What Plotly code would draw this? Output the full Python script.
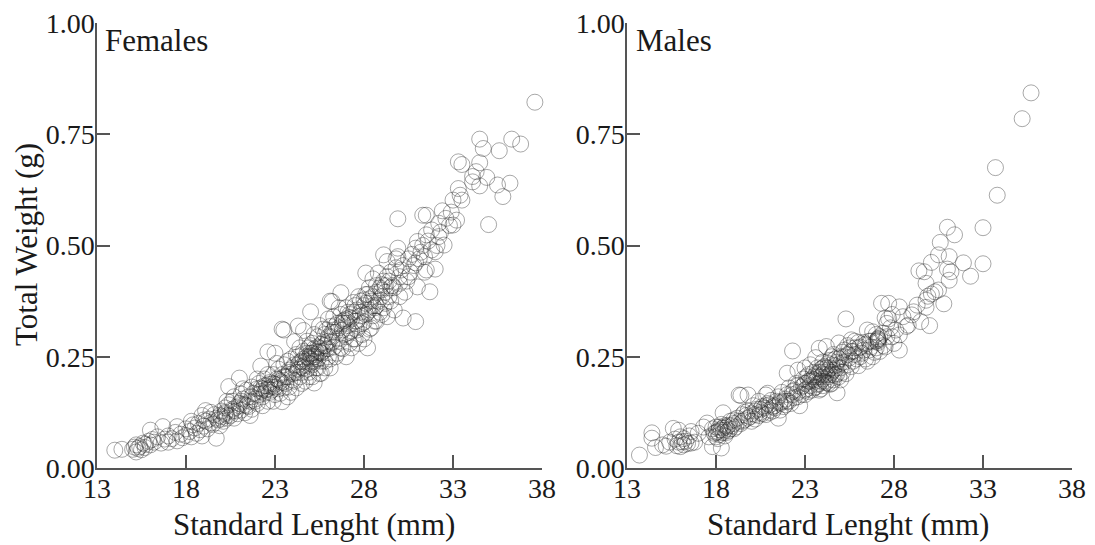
import plotly.graph_objects as go

female_length = [
14.0,14.4,15.0,15.1,15.2,15.2,15.3,15.4,15.5,15.6,15.7,15.7,15.9,16.0,16.0,16.1,16.2,16.4,16.6,16.7,
16.8,17.0,17.0,17.2,17.4,17.5,17.5,17.7,17.8,18.0,18.0,18.2,18.3,18.4,18.5,18.6,18.7,18.8,18.9,19.0,
19.1,19.1,19.2,19.3,19.5,19.6,19.7,19.8,20.0,20.0,20.1,20.2,20.2,20.3,20.4,20.4,20.5,20.6,20.6,20.7,
20.8,20.9,21.0,21.0,21.1,21.1,21.2,21.3,21.4,21.4,21.5,21.6,21.7,21.7,21.8,21.9,22.0,22.0,22.1,22.2,
22.2,22.3,22.4,22.4,22.5,22.6,22.6,22.7,22.7,22.8,22.9,23.0,23.0,23.0,23.1,23.2,23.2,23.3,23.4,23.4,
23.4,23.5,23.5,23.6,23.6,23.7,23.8,23.8,23.9,24.0,24.0,24.1,24.1,24.2,24.3,24.3,24.3,24.4,24.5,24.5,
24.6,24.6,24.7,24.7,24.8,24.8,24.9,24.9,25.0,25.0,25.0,25.1,25.1,25.2,25.2,25.3,25.3,25.4,25.4,25.5,
25.5,25.6,25.6,25.7,25.7,25.8,25.8,25.9,26.0,26.0,26.1,26.1,26.1,26.2,26.2,26.3,26.3,26.4,26.5,26.5,
26.6,26.7,26.7,26.8,26.8,26.9,27.0,27.0,27.1,27.2,27.2,27.3,27.4,27.5,27.5,27.6,27.7,27.7,27.8,27.9,
28.0,28.0,28.1,28.1,28.2,28.2,28.3,28.3,28.4,28.5,28.5,28.6,28.7,28.7,28.8,28.8,28.9,29.0,29.0,29.1,
29.1,29.2,29.3,29.3,29.4,29.5,29.5,29.7,29.8,29.9,29.9,29.9,30.0,30.0,30.2,30.2,30.4,30.5,30.6,30.9,
30.9,30.9,31.0,31.0,31.2,31.3,31.4,31.5,31.5,31.5,31.7,31.8,32.0,32.0,32.2,32.2,32.4,32.5,32.6,33.0,
33.0,33.2,33.3,33.3,33.4,33.5,33.5,34.1,34.1,34.3,34.5,34.5,34.5,34.7,34.9,35.0,35.5,35.6,35.8,36.2,
36.3,36.8,37.6]
female_weight = [
.040,.042,.042,.047,.036,.052,.044,.048,.041,.056,.053,.046,.060,.085,.052,.064,.058,.070,.056,.093,
.065,.072,.058,.066,.080,.093,.061,.076,.068,.088,.073,.082,.070,.097,.090,.078,.100,.086,.118,.094,
.129,.105,.088,.110,.098,.120,.067,.108,.115,.128,.105,.122,.135,.112,.183,.142,.118,.150,.128,.160,
.136,.122,.202,.145,.130,.166,.155,.124,.175,.140,.160,.150,.182,.132,.168,.155,.178,.145,.190,.229,
.172,.160,.185,.200,.176,.261,.150,.192,.170,.182,.210,.258,.188,.165,.200,.222,.178,.195,.312,.149,
.210,.310,.232,.190,.205,.160,.220,.182,.245,.212,.198,.284,.232,.180,.319,.222,.250,.205,.240,.215,
.309,.262,.195,.232,.250,.222,.270,.205,.351,.245,.258,.232,.280,.191,.250,.262,.225,.295,.245,.270,
.212,.213,.258,.312,.282,.240,.300,.268,.285,.250,.375,.225,.318,.374,.295,.272,.340,.305,.258,.325,
.285,.394,.345,.310,.268,.332,.295,.360,.320,.280,.345,.308,.372,.330,.290,.355,.318,.385,.342,.300,
.365,.328,.438,.390,.270,.350,.405,.312,.375,.342,.425,.360,.395,.330,.438,.375,.350,.412,.385,.479,
.360,.395,.464,.340,.420,.375,.440,.405,.450,.560,.494,.475,.385,.430,.337,.455,.420,.470,.440,.329,
.494,.461,.509,.407,.485,.568,.475,.568,.524,.445,.396,.535,.486,.447,.550,.520,.578,.501,.561,.602,
.546,.557,.688,.628,.613,.682,.602,.655,.643,.666,.739,.686,.634,.718,.653,.547,.636,.713,.610,.640,
.739,.728,.822]

female_core_length = [
18.3,18.9,19.4,19.9,20.3,20.7,21.2,21.6,22.0,22.3,22.6,22.9,23.1,23.3,23.5,23.7,23.9,24.1,24.2,24.4,
24.5,24.6,24.8,24.9,25.0,25.0,25.1,25.2,25.2,25.3,25.4,25.5,25.5,25.6,25.7,25.8,25.9,26.0,26.0,26.1,
26.2,26.3,26.4,26.5,26.6,26.7,26.8,26.9,27.0,27.0,27.1,27.2,27.3,27.3,27.4,27.5,27.6,27.7,27.8,27.9,
28.0,28.1,28.2,28.3,28.4,28.5,28.6,28.7,28.9,29.0,29.1,29.2,29.3,29.4,29.6,29.7,29.8,30.0,30.1,30.3,
30.5,30.7,30.8,31.1,31.3,31.4,31.6,31.8,32.1,32.3,32.8,32.9,
19.0,19.4,19.7,19.9,20.0,20.2,20.3,20.6,20.8,21.0,21.1,21.3,21.5,21.7,21.9,22.1,22.2,22.3,22.4,22.5,
22.6,22.7,22.8,22.9,23.0,23.2,23.4,23.5,23.7,23.8,24.0,24.2,24.3,24.4,24.5,24.6,24.7,24.8,24.9,25.0,
25.1,25.2,25.3,25.4,25.5,25.6,25.8,26.0,26.2,26.4,26.6,26.8,27.0,27.2,27.4,27.6,27.8,28.0,28.1,28.3,
28.5,28.7,29.0,29.2,29.5]
female_core_weight = [
.105,.072,.125,.095,.150,.112,.178,.118,.200,.140,.210,.150,.235,.168,.180,.240,.170,.195,.255,.270,
.190,.225,.285,.215,.235,.275,.205,.240,.300,.250,.225,.260,.320,.240,.262,.225,.310,.268,.335,.245,
.282,.310,.250,.290,.360,.270,.330,.300,.250,.325,.350,.305,.270,.335,.290,.365,.310,.280,.375,.325,
.290,.345,.390,.355,.315,.385,.330,.365,.405,.345,.420,.370,.430,.385,.410,.355,.470,.415,.445,.395,
.430,.480,.455,.470,.500,.440,.510,.490,.500,.530,.545,.575,
.108,.102,.112,.118,.110,.125,.118,.132,.128,.140,.150,.142,.138,.160,.150,.165,.180,.178,.168,.185,
.178,.188,.175,.190,.182,.198,.192,.205,.205,.215,.225,.215,.232,.238,.228,.245,.240,.258,.248,.252,
.258,.268,.255,.272,.262,.278,.275,.295,.305,.320,.315,.325,.335,.338,.350,.330,.350,.378,.370,.380,
.365,.410,.400,.410,.405]

male_length = [
13.7,14.4,14.4,14.6,15.0,15.2,15.4,15.6,15.7,15.8,15.9,15.9,16.0,16.0,16.1,16.2,16.2,16.3,16.4,16.5,
16.6,16.6,16.8,17.0,17.3,17.5,17.6,17.8,17.8,17.9,18.0,18.0,18.1,18.1,18.2,18.3,18.3,18.4,18.4,18.5,
18.6,18.7,18.8,18.9,19.0,19.2,19.3,19.4,19.4,19.5,19.6,19.8,19.8,19.9,20.0,20.1,20.2,20.3,20.4,20.5,
20.6,20.8,20.8,20.9,20.9,21.0,21.1,21.2,21.3,21.5,21.5,21.6,21.7,21.8,21.9,22.0,22.0,22.1,22.2,22.3,
22.3,22.4,22.5,22.6,22.6,22.7,22.8,22.9,23.0,23.0,23.0,23.1,23.2,23.3,23.3,23.4,23.5,23.5,23.6,23.6,
23.7,23.8,23.8,23.9,23.9,24.0,24.0,24.1,24.2,24.2,24.3,24.4,24.4,24.5,24.6,24.6,24.7,24.8,24.8,24.9,
24.9,25.0,25.0,25.1,25.2,25.3,25.3,25.4,25.5,25.6,25.6,25.7,25.8,25.9,26.0,26.0,26.2,26.3,26.5,26.5,
26.6,26.8,26.8,27.0,27.1,27.1,27.1,27.2,27.3,27.4,27.5,27.5,27.6,27.7,27.8,27.9,28.0,28.3,28.3,28.3,
28.7,28.8,29.0,29.1,29.3,29.4,29.5,29.7,29.8,29.8,29.8,29.9,30.0,30.1,30.1,30.3,30.5,30.5,30.6,30.8,
31.0,31.0,31.1,31.1,31.2,31.4,31.9,32.3,33.0,33.0,33.7,33.8,35.2,35.7]
male_weight = [
.029,.079,.067,.046,.052,.049,.058,.089,.065,.050,.085,.058,.070,.048,.059,.066,.052,.060,.055,.072,
.082,.056,.058,.078,.092,.101,.070,.048,.088,.078,.092,.070,.082,.066,.086,.045,.098,.124,.080,.072,
.092,.084,.105,.095,.088,.112,.164,.163,.100,.120,.108,.164,.128,.115,.122,.140,.110,.132,.150,.125,
.138,.164,.120,.168,.145,.130,.152,.128,.140,.160,.112,.148,.170,.138,.155,.213,.165,.180,.145,.263,
.172,.158,.190,.220,.170,.140,.182,.200,.225,.165,.190,.178,.210,.185,.232,.175,.198,.215,.248,.182,
.205,.269,.190,.222,.178,.210,.238,.195,.273,.225,.205,.188,.242,.215,.255,.198,.230,.169,.212,.281,
.245,.225,.198,.260,.238,.335,.212,.275,.248,.288,.228,.262,.285,.245,.270,.230,.258,.282,.310,.240,
.265,.306,.250,.285,.288,.282,.290,.262,.370,.303,.337,.272,.295,.370,.315,.295,.280,.362,.299,.265,
.318,.321,.344,.351,.366,.443,.329,.441,.415,.377,.361,.386,.320,.462,.391,.396,.479,.400,.507,.369,
.541,.447,.475,.422,.441,.524,.461,.431,.540,.459,.675,.613,.785,.843]

male_core_length = [
18.2,18.4,18.5,18.7,19.0,19.1,19.5,19.7,20.0,20.2,20.4,20.6,20.7,21.0,21.2,21.4,21.6,21.9,22.1,22.4,
22.6,22.8,23.0,23.2,23.2,23.4,23.5,23.6,23.7,23.8,23.9,24.0,24.0,24.1,24.2,24.3,24.4,24.5,24.5,24.6,
24.7,24.8,24.9,25.0,25.1,25.2,25.4,25.5,25.7,25.8,26.0,26.1,26.3,26.4,26.6,26.7,26.9,27.0,27.2,27.4,
27.6,27.7,27.9,28.1,28.5,
18.0,18.2,18.3,18.5,18.6,18.8,19.0,19.3,19.6,19.8,20.2,20.5,20.8,21.0,21.3,21.6,21.8,22.0,22.3,22.6,
22.9,23.1,23.3,23.5,23.6,23.7,23.8,23.9,24.0,24.1,24.2,24.3,24.3,24.4,24.5,24.6,24.7,24.8,25.0,25.2,
25.4,25.6,25.8,26.1,26.4,26.7,27.0,27.1,27.1]
male_core_weight = [
.075,.090,.085,.096,.100,.092,.105,.118,.105,.128,.118,.122,.135,.142,.138,.150,.130,.142,.150,.175,
.160,.165,.175,.172,.195,.200,.180,.210,.188,.175,.205,.185,.225,.215,.192,.235,.210,.190,.250,.220,
.208,.238,.205,.250,.215,.265,.232,.270,.240,.255,.282,.250,.265,.245,.285,.272,.260,.300,.295,.275,
.325,.335,.345,.310,.340,
.080,.092,.085,.095,.080,.088,.108,.105,.125,.112,.120,.132,.140,.125,.135,.145,.150,.150,.165,.185,
.185,.205,.195,.205,.195,.225,.215,.195,.200,.228,.210,.190,.220,.225,.232,.210,.245,.225,.235,.250,
.255,.262,.270,.272,.278,.285,.270,.286,.291]

x_ticks = [13, 18, 23, 28, 33, 38]
x_tick_labels = ["13", "18", "23", "28", "33", "38"]
y_ticks = [0, 0.25, 0.5, 0.75, 1.0]
y_tick_labels = ["0.00", "0.25", "0.50", "0.75", "1.00"]

W, H = 1095, 545
FONT = "Liberation Serif"
INK = "#1a1a1a"
AXIS = "#555555"
marker = dict(symbol="circle-open", size=16, color="rgba(40,40,40,0.45)", line=dict(width=0.9))

fig = go.Figure()
fig.add_trace(go.Scatter(x=female_length + female_core_length, y=female_weight + female_core_weight,
                         mode="markers", marker=marker, xaxis="x", yaxis="y", showlegend=False, cliponaxis=False))
fig.add_trace(go.Scatter(x=male_length + male_core_length, y=male_weight + male_core_weight,
                         mode="markers", marker=marker, xaxis="x2", yaxis="y2", showlegend=False, cliponaxis=False))

xcommon = dict(range=[13, 38], tickvals=x_ticks, ticktext=x_tick_labels, ticks="inside", ticklen=13,
               tickwidth=1.5, tickcolor=AXIS, showline=True, linecolor=AXIS, linewidth=1.5, showgrid=False,
               zeroline=False, automargin=False, tickfont=dict(family=FONT, size=28, color=INK), ticklabelstandoff=-5)
ycommon = dict(range=[0, 1], tickvals=y_ticks, ticktext=y_tick_labels, ticks="inside", ticklen=13,
               tickwidth=1.5, tickcolor=AXIS, showline=True, linecolor=AXIS, linewidth=1.5, showgrid=False,
               zeroline=False, automargin=False, tickfont=dict(family=FONT, size=28, color=INK), ticklabelstandoff=-5,
               domain=[(H - 468) / H, (H - 23) / H])


def label(text, px, py, xanchor="center", angle=0):
    return dict(text=text, xref="paper", yref="paper", x=px / W, y=(H - py) / H, xanchor=xanchor, yanchor="middle",
                showarrow=False, textangle=angle, font=dict(family=FONT, size=31, color=INK))


fig.update_layout(
    width=W, height=H, margin=dict(l=0, r=0, t=0, b=0, autoexpand=False),
    paper_bgcolor="white", plot_bgcolor="white",
    xaxis=dict(xcommon, domain=[97 / W, 542 / W], anchor="y"),
    yaxis=dict(ycommon, anchor="x"),
    xaxis2=dict(xcommon, domain=[627 / W, 1072 / W], anchor="y2"),
    yaxis2=dict(ycommon, anchor="x2"),
    annotations=[
        label("Females", 103, 41, "left"),
        label("Males", 634, 41, "left"),
        label("Standard Lenght (mm)", 314, 524),
        label("Standard Lenght (mm)", 848, 524),
        label("Total Weight (g)", 27, 245, angle=-90),
    ],
)
fig.write_html("out.html", config=dict(displayModeBar=False),
               post_script="document.body.style.margin='0';document.documentElement.style.overflow='hidden';")
